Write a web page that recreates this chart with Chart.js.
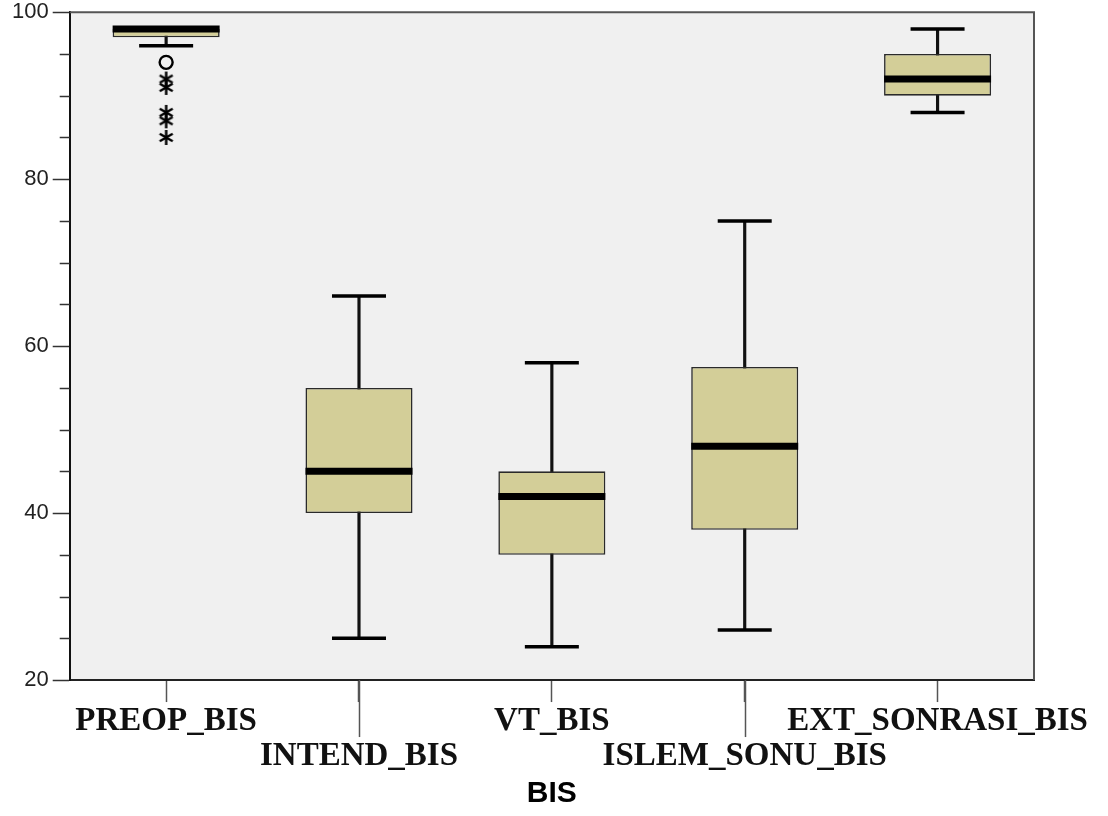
<!DOCTYPE html>
<html lang="tr">
<head>
    <meta charset="UTF-8">
    <title>BIS</title>
    <script src="https://cdn.jsdelivr.net/npm/chart.js"></script>
    <style>
        html, body { margin: 0; padding: 0; background: #ffffff; }
        #wrap { width: 1108px; height: 816px; }
    </style>
</head>
<body>
<div id="wrap"><canvas id="bisChart"></canvas></div>
<script>
// verileri
const categories = ['PREOP_BIS', 'INTEND_BIS', 'VT_BIS', 'ISLEM_SONU_BIS', 'EXT_SONRASI_BIS'];
const whiskerLow = [96, 25, 24, 26, 88];
const q1 = [97, 40, 35, 38, 90];
const medians = [98, 45, 42, 48, 92];
const q3 = [98, 55, 45, 57.5, 95];
const whiskerHigh = [98, 66, 58, 75, 98];
const outlierCircles = [{ x: 'PREOP_BIS', y: 94 }];
const outlierStars = [
    { x: 'PREOP_BIS', y: 92 },
    { x: 'PREOP_BIS', y: 91 },
    { x: 'PREOP_BIS', y: 88 },
    { x: 'PREOP_BIS', y: 87 },
    { x: 'PREOP_BIS', y: 85 }
];
const yTicks = [20, 40, 60, 80, 100];
const yMinorStep = 5;

const boxColor = '#d3ce98';

// SPSS tarzi yildiz (*) isareti
function makeStar(size, lw) {
    const c = document.createElement('canvas');
    c.width = size;
    c.height = size;
    const g = c.getContext('2d');
    g.strokeStyle = '#000';
    g.lineWidth = lw;
    g.translate(size / 2, size / 2);
    const r = size / 2 - 1;
    for (let k = 0; k < 3; k++) {
        const a = Math.PI / 2 + k * Math.PI / 3;
        g.beginPath();
        g.moveTo(-r * Math.cos(a), -r * Math.sin(a));
        g.lineTo(r * Math.cos(a), r * Math.sin(a));
        g.stroke();
    }
    return c;
}

// arka plan, cerceve, ara cizgiler
const frame = {
    id: 'frame',
    beforeDraw(chart) {
        const a = chart.chartArea;
        const ctx = chart.ctx;
        ctx.save();
        ctx.fillStyle = '#f0f0f0';
        ctx.fillRect(a.left, a.top, a.right - a.left, a.bottom - a.top);
        ctx.restore();
    },
    afterDraw(chart) {
        const a = chart.chartArea;
        const ctx = chart.ctx;
        const y = chart.scales.y;
        const x = chart.scales.x;
        ctx.save();
        ctx.strokeStyle = '#555';
        ctx.lineWidth = 2;
        ctx.beginPath();
        ctx.moveTo(a.left, a.top);
        ctx.lineTo(a.right, a.top);
        ctx.lineTo(a.right, a.bottom);
        ctx.stroke();

        ctx.strokeStyle = '#333';
        ctx.lineWidth = 1.5;
        for (let v = y.min; v <= y.max; v += yMinorStep) {
            if (yTicks.includes(v)) continue;
            const py = Math.round(y.getPixelForValue(v)) + 0.5;
            ctx.beginPath();
            ctx.moveTo(a.left - 10, py);
            ctx.lineTo(a.left, py);
            ctx.stroke();
        }

        ctx.strokeStyle = '#555';
        for (let i = 1; i < categories.length; i += 2) {
            const px = Math.round(x.getPixelForTick(i)) + 0.5;
            ctx.beginPath();
            ctx.moveTo(px, a.bottom);
            ctx.lineTo(px, a.bottom + 57);
            ctx.stroke();
        }
        ctx.restore();
    }
};

const ctx = document.getElementById('bisChart').getContext('2d');
new Chart(ctx, {
    data: {
        labels: categories,
        datasets: [
            {
                type: 'line',
                label: 'Medyan',
                data: medians,
                showLine: false,
                pointStyle: 'line',
                pointRadius: 53.5,
                pointBorderWidth: 7,
                pointBorderColor: '#000'
            },
            {
                type: 'line',
                label: 'Ust',
                data: whiskerHigh,
                showLine: false,
                pointStyle: 'line',
                pointRadius: 27,
                pointBorderWidth: 3.5,
                pointBorderColor: '#000'
            },
            {
                type: 'line',
                label: 'Alt',
                data: whiskerLow,
                showLine: false,
                pointStyle: 'line',
                pointRadius: 27,
                pointBorderWidth: 3.5,
                pointBorderColor: '#000'
            },
            {
                type: 'line',
                label: 'Uc deger',
                data: outlierStars,
                showLine: false,
                pointStyle: makeStar(17, 2.5),
                pointRadius: 8
            },
            {
                type: 'line',
                label: 'Aykiri',
                data: outlierCircles,
                showLine: false,
                pointStyle: 'circle',
                pointRadius: 6.5,
                pointBorderWidth: 2.4,
                pointBorderColor: '#000',
                pointBackgroundColor: '#f0f0f0'
            },
            {
                type: 'bar',
                label: 'Kutu',
                data: q1.map((v, i) => [v, q3[i]]),
                backgroundColor: boxColor,
                borderColor: '#2a2a2a',
                borderWidth: 1.6,
                borderSkipped: false,
                barPercentage: 0.555,
                categoryPercentage: 1,
                grouped: false
            },
            {
                type: 'bar',
                label: 'Biyik',
                data: whiskerLow.map((v, i) => [v, whiskerHigh[i]]),
                backgroundColor: '#111',
                barThickness: 2.5,
                grouped: false
            }
        ]
    },
    options: {
        responsive: true,
        maintainAspectRatio: false,
        animation: false,
        events: [],
        layout: { autoPadding: false, padding: { left: 8, right: 74, top: 7, bottom: 4 } },
        plugins: {
            legend: { display: false },
            tooltip: { enabled: false }
        },
        scales: {
            x: {
                type: 'category',
                offset: true,
                grid: { display: true, offset: false, drawOnChartArea: false, tickLength: 22, tickColor: '#555', tickWidth: 1.5 },
                border: { display: true, color: '#222', width: 2 },
                ticks: {
                    autoSkip: false,
                    maxRotation: 0,
                    padding: 2,
                    color: '#111',
                    font: { family: 'Liberation Serif', size: 33, weight: 'bold', lineHeight: 1.06 },
                    callback: (v, i) => i % 2 ? ['', categories[i]] : categories[i]
                },
                title: {
                    display: true,
                    text: 'BIS',
                    color: '#000',
                    padding: { top: 0, bottom: 0 },
                    font: { family: 'Liberation Sans', size: 30, weight: 'bold' }
                }
            },
            y: {
                min: 20,
                max: 100,
                afterBuildTicks: axis => { axis.ticks = yTicks.map(v => ({ value: v })); },
                grid: { display: true, drawOnChartArea: false, tickLength: 17, tickColor: '#333', tickWidth: 1.5 },
                border: { display: true, color: '#111', width: 2 },
                ticks: {
                    padding: 4,
                    color: '#222',
                    font: { family: 'Liberation Sans', size: 22, lineHeight: 0.75 }
                }
            }
        }
    },
    plugins: [frame]
});
</script>
</body>
</html>
